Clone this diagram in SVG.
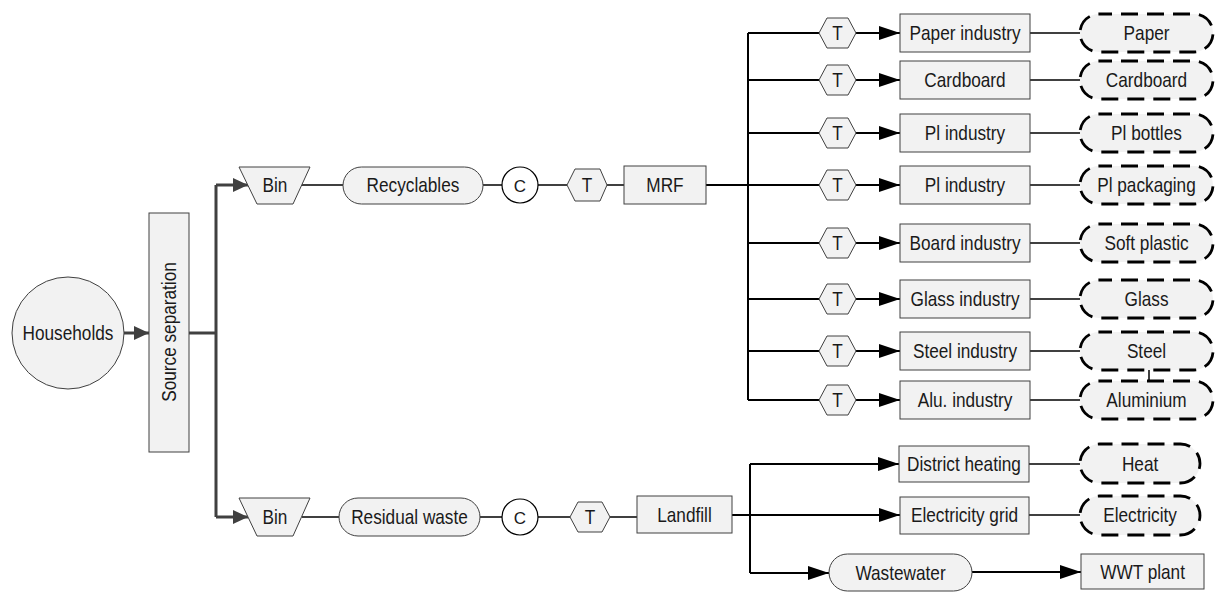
<svg xmlns="http://www.w3.org/2000/svg" width="1224" height="593" viewBox="0 0 1224 593">
<style>
text{font-family:'Liberation Sans',Arial,sans-serif;font-size:21px;fill:#1a1a1a;text-anchor:middle;dominant-baseline:central}
text.s{transform-box:fill-box;transform-origin:center;transform:scaleX(0.82)}
.n{fill:#f2f2f2;stroke:#404040;stroke-width:1}
.d{fill:#f2f2f2;stroke:#000;stroke-width:2.8;stroke-dasharray:17 9;stroke-dashoffset:4}
.c{fill:#fff;stroke:#000;stroke-width:1.2}
.g{stroke:#404040;stroke-width:3;fill:none}
.k{stroke:#000;stroke-width:2;fill:none}
.t{stroke:#000;stroke-width:1.5;fill:none}
text.cl{font-size:17px}
</style>
<defs>
<marker id="ag" markerUnits="userSpaceOnUse" markerWidth="16" markerHeight="14" refX="15" refY="7" orient="auto"><path d="M0,0 L15,7 L0,14 z" fill="#404040"/></marker>
<marker id="ak" markerUnits="userSpaceOnUse" markerWidth="22" markerHeight="14" refX="21" refY="7" orient="auto"><path d="M0,0 L21,7 L0,14 z" fill="#000"/></marker>
</defs>
<g id="connectors">
<line class="g" x1="124" y1="333" x2="149" y2="333" marker-end="url(#ag)"/>
<polyline class="g" points="189,333 216,333"/>
<line class="g" x1="216" y1="185" x2="216" y2="517"/>
<line class="g" x1="216" y1="185" x2="248" y2="185" marker-end="url(#ag)"/>
<line class="g" x1="216" y1="517" x2="248" y2="517" marker-end="url(#ag)"/>
<line class="t" x1="302" y1="185" x2="343" y2="185"/>
<line class="t" x1="483" y1="185" x2="502" y2="185"/>
<line class="t" x1="538" y1="185" x2="567" y2="185"/>
<line class="t" x1="607" y1="185" x2="624" y2="185"/>
<line class="k" x1="706" y1="185" x2="819" y2="185"/>
<line class="t" x1="302" y1="517" x2="339" y2="517"/>
<line class="t" x1="480" y1="517" x2="502" y2="517"/>
<line class="t" x1="538" y1="517" x2="570" y2="517"/>
<line class="t" x1="610" y1="517" x2="637" y2="517"/>
<line class="k" x1="748" y1="33" x2="748" y2="400"/>
<line class="k" x1="748" y1="33" x2="819" y2="33"/>
<line class="k" x1="748" y1="80" x2="819" y2="80"/>
<line class="k" x1="748" y1="133" x2="819" y2="133"/>
<line class="k" x1="748" y1="243" x2="819" y2="243"/>
<line class="k" x1="748" y1="299" x2="819" y2="299"/>
<line class="k" x1="748" y1="351" x2="819" y2="351"/>
<line class="k" x1="748" y1="400" x2="819" y2="400"/>
<line class="k" x1="856" y1="33" x2="900" y2="33" marker-end="url(#ak)"/>
<line class="k" x1="856" y1="80" x2="900" y2="80" marker-end="url(#ak)"/>
<line class="k" x1="856" y1="133" x2="900" y2="133" marker-end="url(#ak)"/>
<line class="k" x1="856" y1="185" x2="900" y2="185" marker-end="url(#ak)"/>
<line class="k" x1="856" y1="243" x2="900" y2="243" marker-end="url(#ak)"/>
<line class="k" x1="856" y1="299" x2="900" y2="299" marker-end="url(#ak)"/>
<line class="k" x1="856" y1="351" x2="900" y2="351" marker-end="url(#ak)"/>
<line class="k" x1="856" y1="400" x2="900" y2="400" marker-end="url(#ak)"/>
<line class="t" x1="1030" y1="33" x2="1080" y2="33"/>
<line class="t" x1="1030" y1="80" x2="1080" y2="80"/>
<line class="t" x1="1030" y1="133" x2="1080" y2="133"/>
<line class="t" x1="1030" y1="185" x2="1080" y2="185"/>
<line class="t" x1="1030" y1="243" x2="1080" y2="243"/>
<line class="t" x1="1030" y1="299" x2="1080" y2="299"/>
<line class="t" x1="1030" y1="351" x2="1080" y2="351"/>
<line class="t" x1="1030" y1="400" x2="1080" y2="400"/>
<line class="t" x1="1149" y1="370" x2="1149" y2="381"/>
<line class="k" x1="732" y1="515" x2="900" y2="515" marker-end="url(#ak)"/>
<line class="k" x1="750" y1="464" x2="750" y2="573"/>
<line class="k" x1="750" y1="464" x2="899" y2="464" marker-end="url(#ak)"/>
<line class="k" x1="750" y1="573" x2="829" y2="573" marker-end="url(#ak)"/>
<line class="k" x1="972" y1="572" x2="1081" y2="572" marker-end="url(#ak)"/>
<line class="t" x1="1029" y1="464" x2="1080" y2="464"/>
<line class="t" x1="1029" y1="515" x2="1080" y2="515"/>
</g>
<g id="households"><circle class="n" cx="68" cy="333" r="56"/><text class="s" x="68" y="333">Households</text></g>
<g id="source-separation"><rect class="n" x="149" y="213" width="40" height="239"/><text transform="translate(169,332) rotate(-90) scale(0.82,1)">Source separation</text></g>
<g id="bin1"><polygon class="n" points="239,167 310,167 293,204 257,204"/><text class="s" x="275" y="185">Bin</text></g>
<g id="recyclables"><rect class="n" x="343" y="167" width="140" height="37" rx="18.5"/><text class="s" x="413" y="185">Recyclables</text></g>
<g id="c1"><circle class="c" cx="520" cy="185" r="18"/><text class="cl" x="520" y="186">C</text></g>
<g id="t1"><polygon class="n" points="567,185 575,169 600,169 607,185 600,201 575,201"/><text class="s" x="587" y="185">T</text></g>
<g id="mrf"><rect class="n" x="624" y="166" width="82" height="38"/><text class="s" x="665" y="185">MRF</text></g>
<g id="bin2"><polygon class="n" points="239,498 310,498 293,536 257,536"/><text class="s" x="275" y="517">Bin</text></g>
<g id="residual"><rect class="n" x="339" y="498" width="141" height="38" rx="19"/><text class="s" x="409.5" y="517">Residual waste</text></g>
<g id="c2"><circle class="c" cx="520" cy="517" r="18"/><text class="cl" x="520" y="518">C</text></g>
<g id="t2"><polygon class="n" points="570,517 578,502 602,502 610,517 602,532 578,532"/><text class="s" x="590" y="517">T</text></g>
<g id="landfill"><rect class="n" x="637" y="496" width="95" height="37"/><text class="s" x="684.5" y="514.5">Landfill</text></g>
<g id="row1"><polygon class="n" points="819,33 827,18 848,18 856,33 848,48 827,48"/><text class="s" x="837.5" y="33">T</text><rect class="n" x="900" y="14" width="130" height="38"/><text class="s" x="965" y="33">Paper industry</text><rect class="d" x="1080" y="14" width="133" height="38" rx="19"/><text class="s" x="1146.5" y="33">Paper</text></g>
<g id="row2"><polygon class="n" points="819,80 827,65 848,65 856,80 848,95 827,95"/><text class="s" x="837.5" y="80">T</text><rect class="n" x="900" y="61" width="130" height="38"/><text class="s" x="965" y="80">Cardboard</text><rect class="d" x="1080" y="61" width="133" height="38" rx="19"/><text class="s" x="1146.5" y="80">Cardboard</text></g>
<g id="row3"><polygon class="n" points="819,133 827,118 848,118 856,133 848,148 827,148"/><text class="s" x="837.5" y="133">T</text><rect class="n" x="900" y="114" width="130" height="38"/><text class="s" x="965" y="133">Pl industry</text><rect class="d" x="1080" y="114" width="133" height="38" rx="19"/><text class="s" x="1146.5" y="133">Pl bottles</text></g>
<g id="row4"><polygon class="n" points="819,185 827,170 848,170 856,185 848,200 827,200"/><text class="s" x="837.5" y="185">T</text><rect class="n" x="900" y="166" width="130" height="38"/><text class="s" x="965" y="185">Pl industry</text><rect class="d" x="1080" y="166" width="133" height="38" rx="19"/><text class="s" x="1146.5" y="185">Pl packaging</text></g>
<g id="row5"><polygon class="n" points="819,243 827,228 848,228 856,243 848,258 827,258"/><text class="s" x="837.5" y="243">T</text><rect class="n" x="900" y="224" width="130" height="38"/><text class="s" x="965" y="243">Board industry</text><rect class="d" x="1080" y="224" width="133" height="38" rx="19"/><text class="s" x="1146.5" y="243">Soft plastic</text></g>
<g id="row6"><polygon class="n" points="819,299 827,284 848,284 856,299 848,314 827,314"/><text class="s" x="837.5" y="299">T</text><rect class="n" x="900" y="280" width="130" height="38"/><text class="s" x="965" y="299">Glass industry</text><rect class="d" x="1080" y="280" width="133" height="38" rx="19"/><text class="s" x="1146.5" y="299">Glass</text></g>
<g id="row7"><polygon class="n" points="819,351 827,336 848,336 856,351 848,366 827,366"/><text class="s" x="837.5" y="351">T</text><rect class="n" x="900" y="332" width="130" height="38"/><text class="s" x="965" y="351">Steel industry</text><rect class="d" x="1080" y="332" width="133" height="38" rx="19"/><text class="s" x="1146.5" y="351">Steel</text></g>
<g id="row8"><polygon class="n" points="819,400 827,385 848,385 856,400 848,415 827,415"/><text class="s" x="837.5" y="400">T</text><rect class="n" x="900" y="381" width="130" height="38"/><text class="s" x="965" y="400">Alu. industry</text><rect class="d" x="1080" y="381" width="133" height="38" rx="19"/><text class="s" x="1146.5" y="400">Aluminium</text></g>
<g id="district-heating"><rect class="n" x="899" y="446" width="130" height="36"/><text class="s" x="964" y="464">District heating</text></g>
<g id="heat"><rect class="d" x="1080" y="444" width="120" height="39" rx="19.5"/><text class="s" x="1140" y="464">Heat</text></g>
<g id="electricity-grid"><rect class="n" x="900" y="497" width="129" height="37"/><text class="s" x="964.5" y="515">Electricity grid</text></g>
<g id="electricity"><rect class="d" x="1080" y="496" width="120" height="39" rx="19.5"/><text class="s" x="1140" y="515">Electricity</text></g>
<g id="wastewater"><rect class="n" x="829" y="554" width="143" height="37" rx="18.5"/><text class="s" x="900.5" y="572.5">Wastewater</text></g>
<g id="wwt"><rect class="n" x="1081" y="554" width="123" height="35"/><text class="s" x="1142.5" y="571.5">WWT plant</text></g>
</svg>
